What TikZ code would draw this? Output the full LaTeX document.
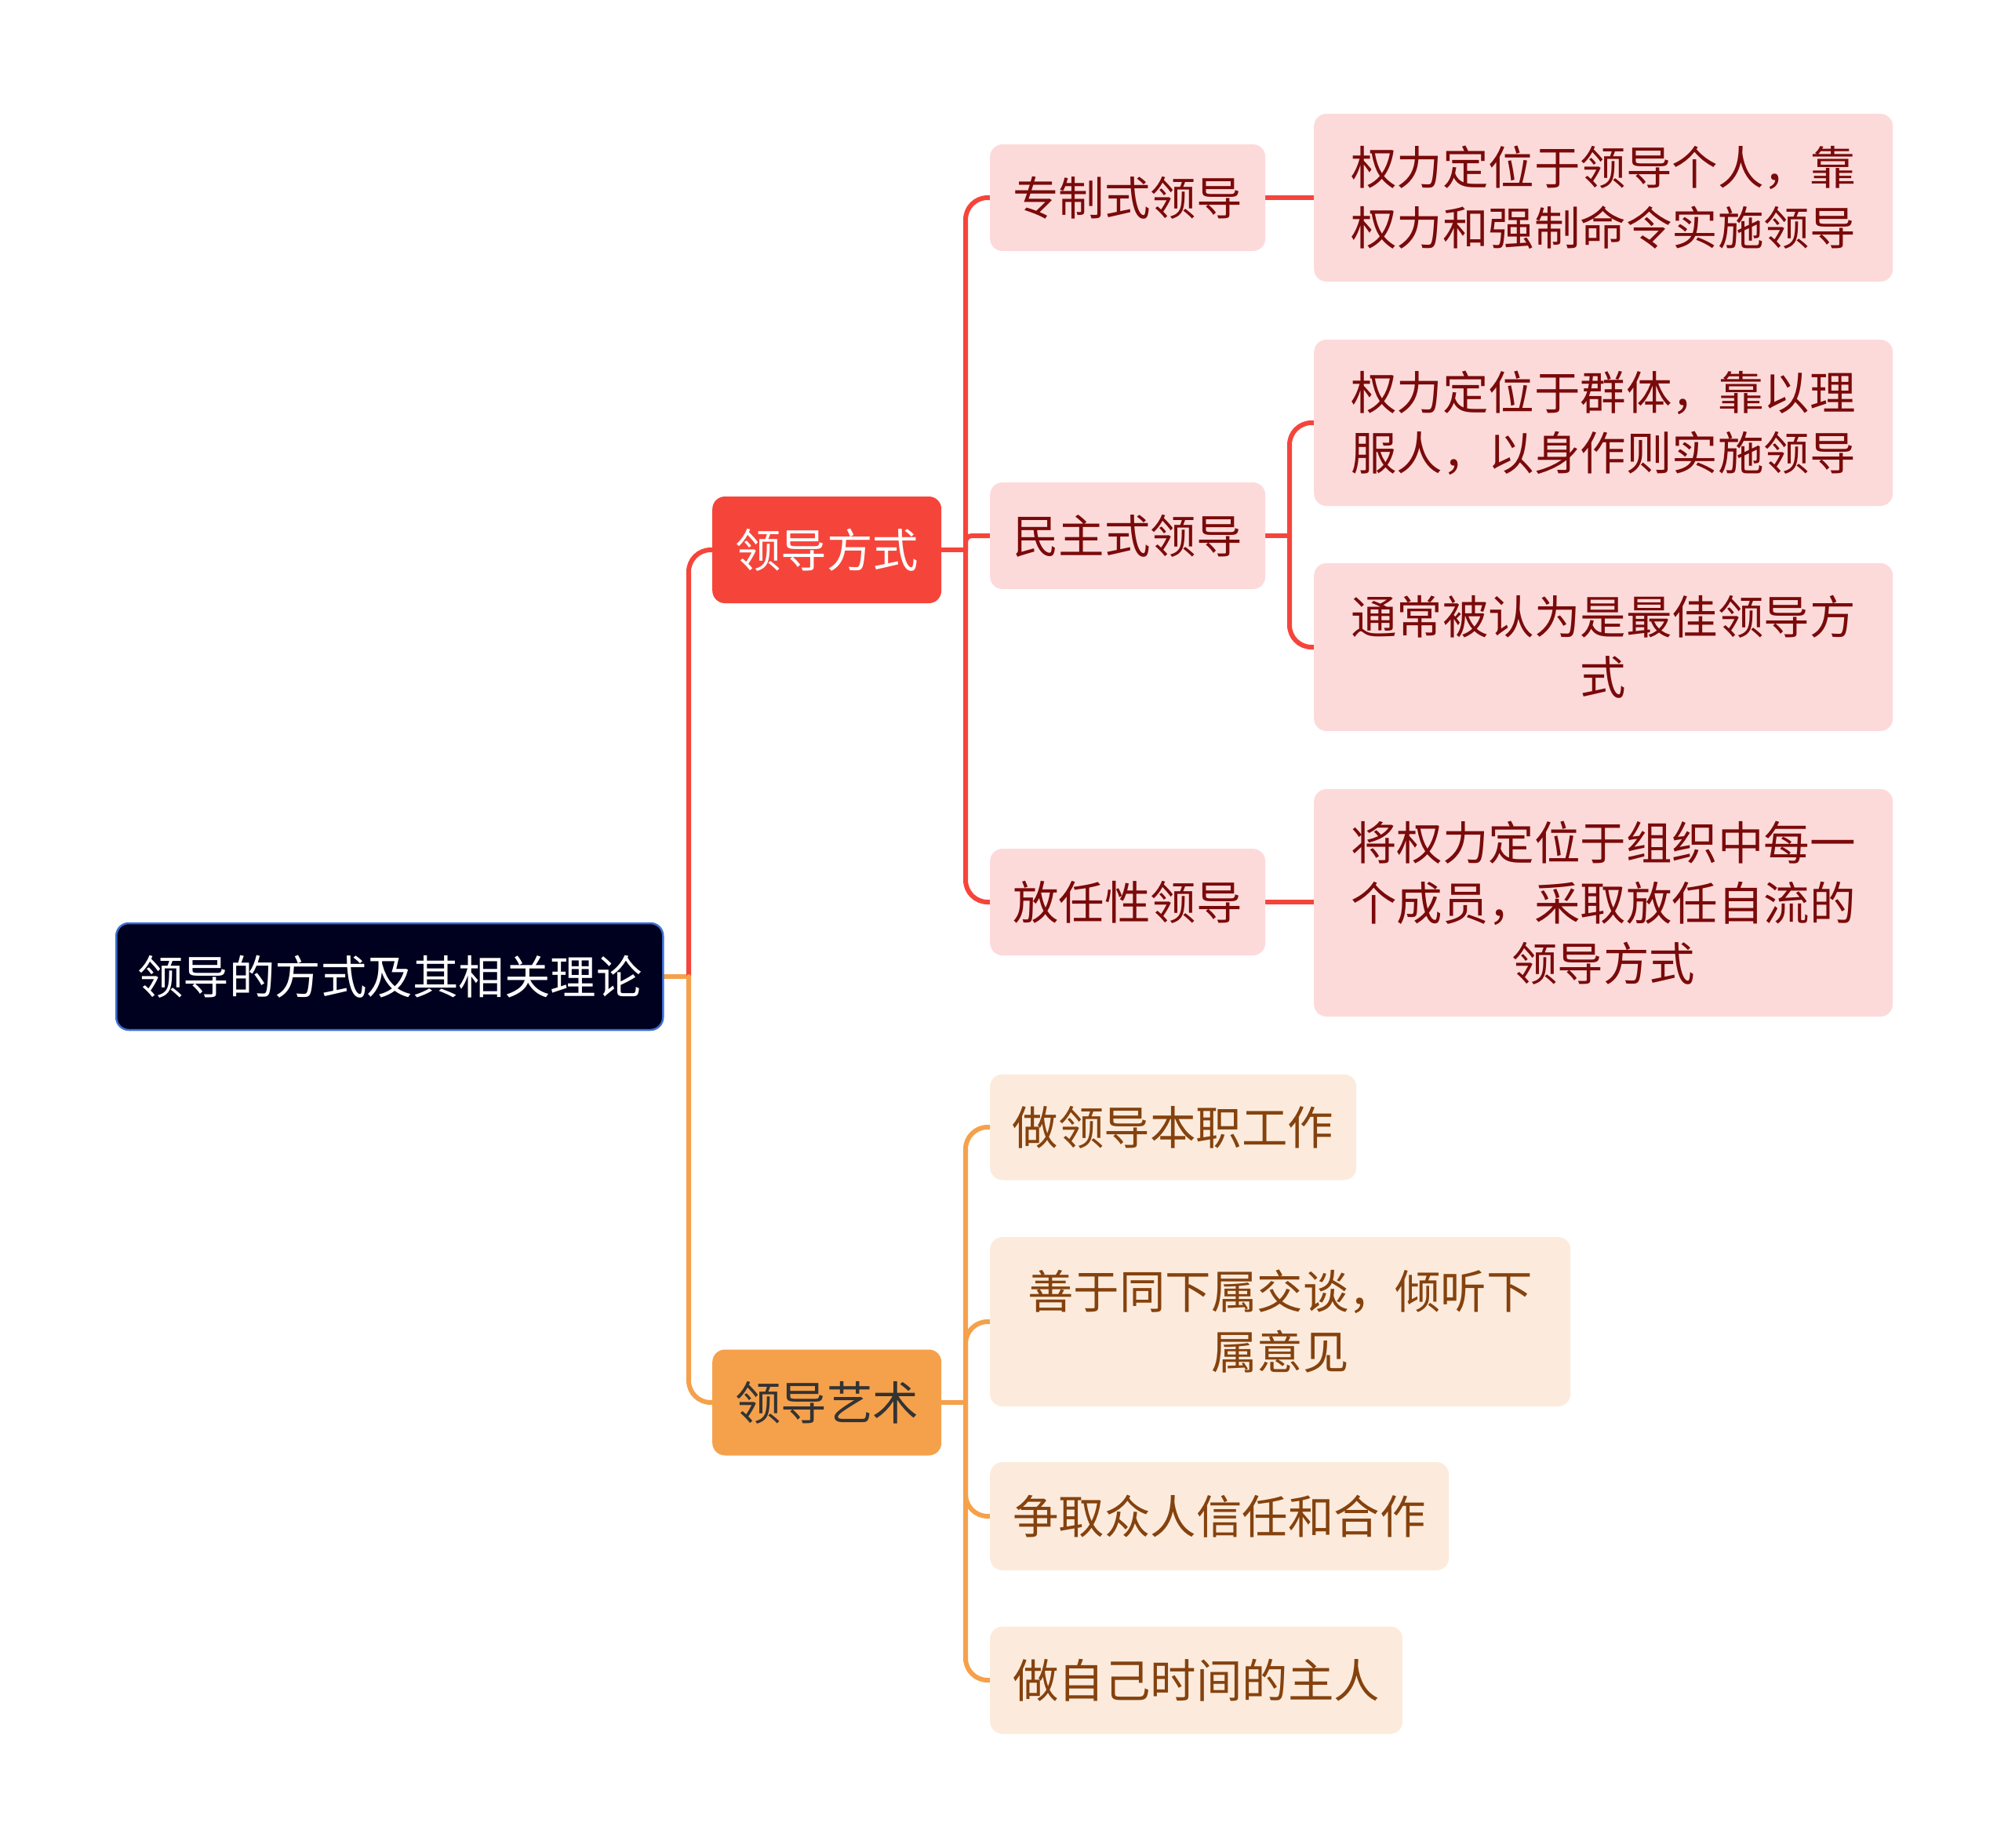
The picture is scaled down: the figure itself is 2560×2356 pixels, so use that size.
\documentclass[tikz,border=0pt]{standalone}
\usepackage{fontspec}
\setmainfont{Noto Sans CJK SC}
\usetikzlibrary{backgrounds}
\definecolor{rootfill}{HTML}{00001F}
\definecolor{rootdraw}{HTML}{3A6FD0}
\definecolor{redmain}{HTML}{F5453B}
\definecolor{pinkfill}{HTML}{FDDADA}
\definecolor{redtext}{HTML}{7A0A0A}
\definecolor{orgmain}{HTML}{F5A14C}
\definecolor{orgfill}{HTML}{FCEBDC}
\definecolor{brntext}{HTML}{85420E}
\definecolor{orgtext}{HTML}{333333}
\begin{document}
\begin{tikzpicture}[x=1pt,y=-1pt,
  box/.style={rectangle, rounded corners=16pt, anchor=west, align=center, inner sep=0pt,
    font=\fontsize{58.5}{77}\selectfont},
  rootbox/.style={box, fill=rootfill, draw=rootdraw, line width=2.5pt, text=white},
  redhead/.style={box, fill=redmain, text=white},
  orghead/.style={box, fill=orgmain, text=orgtext},
  pinkbox/.style={box, fill=pinkfill, text=redtext},
  lorgbox/.style={box, fill=orgfill, text=brntext},
  redl/.style={draw=redmain, line width=6pt, rounded corners=28pt, line cap=round},
  orl/.style={draw=orgmain, line width=6pt, rounded corners=28pt, line cap=round}
]
\useasboundingbox (0,0) rectangle (2560,2356);

% nodes
\node[rootbox, minimum width=697pt, minimum height=136pt] (root) at (147,1245) {领导的方式及其相关理论};
\node[redhead, minimum width=292pt, minimum height=136pt] (fs) at (908,701) {领导方式};
\node[orghead, minimum width=292pt, minimum height=135pt] (ys) at (908,1788) {领导艺术};

\node[pinkbox, minimum width=351pt, minimum height=136pt] (zz) at (1262,252) {专制式领导};
\node[pinkbox, minimum width=351pt, minimum height=136pt] (mz) at (1262,683) {民主式领导};
\node[pinkbox, minimum width=351pt, minimum height=136pt] (fr) at (1262,1150) {放任性领导};

\node[pinkbox, minimum width=738pt, minimum height=214pt] (l1) at (1675,252) {权力定位于领导个人，靠\\权力和强制命令实施领导};
\node[pinkbox, minimum width=738pt, minimum height=212pt] (l2) at (1675,539) {权力定位于群体，靠以理\\服人，以身作则实施领导};
\node[pinkbox, minimum width=738pt, minimum height=214pt] (l3) at (1675,825) {通常被认为是最佳领导方\\式};
\node[pinkbox, minimum width=738pt, minimum height=290pt] (l4) at (1675,1151) {将权力定位于组织中每一\\个成员，采取放任自流的\\领导方式};

\node[lorgbox, minimum width=467pt, minimum height=135pt] (o1) at (1262,1437) {做领导本职工作};
\node[lorgbox, minimum width=740pt, minimum height=216pt] (o2) at (1262,1685) {善于同下属交谈，倾听下\\属意见};
\node[lorgbox, minimum width=585pt, minimum height=138pt] (o3) at (1262,1933) {争取众人信任和合作};
\node[lorgbox, minimum width=526pt, minimum height=137pt] (o4) at (1262,2142) {做自己时间的主人};

\coordinate (j1) at (878,1245);
\coordinate (j2) at (1231,701);
\coordinate (j3) at (1644,683);
\coordinate (j4) at (1231,1788);

\begin{scope}[on background layer]
\draw[orl] (root.east) -- (j1);
\draw[redl] (j1) |- (fs.west);
\draw[orl] (j1) |- (ys.west);

\draw[redl] (fs.east) -- (j2);
\draw[redl] (j2) |- (zz.west);
\draw[redl, rounded corners=8pt] (j2) |- (mz.west);
\draw[redl] (j2) |- (fr.west);

\draw[redl] (zz.east) -- (zz.east -| l1.west);
\draw[redl] (fr.east) -- (fr.east -| l4.west);

\draw[redl] (mz.east) -- (j3);
\draw[redl] (j3) |- (l2.west);
\draw[redl] (j3) |- (l3.west);

\draw[orl] (ys.east) -- (j4);
\draw[orl] (j4) |- (o1.west);
\draw[orl] (j4) |- (o2.west);
\draw[orl] (j4) |- (o3.west);
\draw[orl] (j4) |- (o4.west);
\end{scope}
\end{tikzpicture}
\end{document}
